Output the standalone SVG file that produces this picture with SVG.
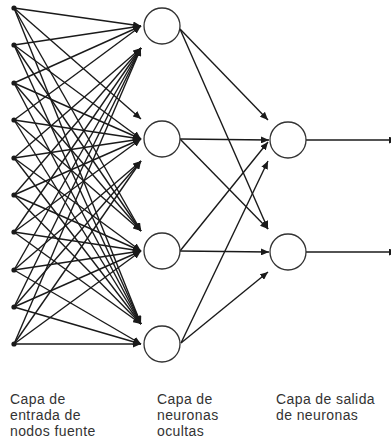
<svg xmlns="http://www.w3.org/2000/svg" width="391" height="446" viewBox="0 0 391 446">
  <style>
    .edge { stroke: #1a1a1a; stroke-width: 1.4; fill: none; marker-end: url(#tip); }
    .src { fill: #1a1a1a; }
    .neuron { fill: #ffffff; stroke: #333333; stroke-width: 1.3; }
    .label { font-family: "Liberation Sans", Arial, sans-serif; font-size: 14px; letter-spacing: 0.4px; fill: #333333; }
  </style>
  <defs>
    <marker id="tip" markerUnits="userSpaceOnUse" markerWidth="9" markerHeight="7" refX="8" refY="3.5" orient="auto">
      <path d="M0,0 L8,3.5 L0,7 z" fill="#1a1a1a"/>
    </marker>
  </defs>
  <rect width="391" height="446" fill="#ffffff"/>

  <!-- connections: source nodes to hidden neurons, hidden to output, output lines -->
  <g id="connectors">
    <!-- to hidden 1 -->
    <line class="edge" x1="14" y1="8" x2="141" y2="26"/>
    <line class="edge" x1="14" y1="45" x2="141" y2="26"/>
    <line class="edge" x1="14" y1="83" x2="141" y2="26"/>
    <line class="edge" x1="14" y1="120" x2="141" y2="26"/>
    <line class="edge" x1="14" y1="158" x2="141" y2="48"/>
    <line class="edge" x1="14" y1="195" x2="141" y2="48"/>
    <line class="edge" x1="14" y1="232" x2="141" y2="48"/>
    <line class="edge" x1="14" y1="270" x2="141" y2="48"/>
    <line class="edge" x1="14" y1="307" x2="141" y2="48"/>
    <line class="edge" x1="14" y1="344" x2="141" y2="48"/>
    <!-- to hidden 2 -->
    <line class="edge" x1="14" y1="8" x2="141" y2="119"/>
    <line class="edge" x1="14" y1="45" x2="141" y2="139"/>
    <line class="edge" x1="14" y1="83" x2="141" y2="139"/>
    <line class="edge" x1="14" y1="120" x2="141" y2="139"/>
    <line class="edge" x1="14" y1="158" x2="141" y2="139"/>
    <line class="edge" x1="14" y1="195" x2="141" y2="139"/>
    <line class="edge" x1="14" y1="232" x2="141" y2="139"/>
    <line class="edge" x1="14" y1="270" x2="141" y2="161"/>
    <line class="edge" x1="14" y1="307" x2="141" y2="161"/>
    <line class="edge" x1="14" y1="344" x2="141" y2="161"/>
    <!-- to hidden 3 -->
    <line class="edge" x1="14" y1="8" x2="141" y2="231"/>
    <line class="edge" x1="14" y1="45" x2="141" y2="231"/>
    <line class="edge" x1="14" y1="83" x2="141" y2="231"/>
    <line class="edge" x1="14" y1="120" x2="141" y2="231"/>
    <line class="edge" x1="14" y1="158" x2="141" y2="251"/>
    <line class="edge" x1="14" y1="195" x2="141" y2="251"/>
    <line class="edge" x1="14" y1="232" x2="141" y2="251"/>
    <line class="edge" x1="14" y1="270" x2="141" y2="251"/>
    <line class="edge" x1="14" y1="307" x2="141" y2="251"/>
    <line class="edge" x1="14" y1="344" x2="141" y2="251"/>
    <!-- to hidden 4 -->
    <line class="edge" x1="14" y1="8" x2="141" y2="324"/>
    <line class="edge" x1="14" y1="45" x2="141" y2="324"/>
    <line class="edge" x1="14" y1="83" x2="141" y2="324"/>
    <line class="edge" x1="14" y1="120" x2="141" y2="324"/>
    <line class="edge" x1="14" y1="158" x2="141" y2="324"/>
    <line class="edge" x1="14" y1="195" x2="141" y2="324"/>
    <line class="edge" x1="14" y1="232" x2="141" y2="324"/>
    <line class="edge" x1="14" y1="270" x2="141" y2="344"/>
    <line class="edge" x1="14" y1="307" x2="141" y2="344"/>
    <line class="edge" x1="14" y1="344" x2="141" y2="344"/>
    <!-- hidden to output -->
    <line class="edge" x1="180" y1="29" x2="268" y2="120"/>
    <line class="edge" x1="180" y1="29" x2="268" y2="229"/>
    <line class="edge" x1="180" y1="139" x2="269" y2="140"/>
    <line class="edge" x1="180" y1="139" x2="268" y2="229"/>
    <line class="edge" x1="180" y1="251" x2="268" y2="142"/>
    <line class="edge" x1="180" y1="251" x2="269" y2="252"/>
    <line class="edge" x1="181" y1="343" x2="268" y2="161"/>
    <line class="edge" x1="181" y1="343" x2="268" y2="272"/>
    <!-- output signals -->
    <line class="edge" x1="306" y1="140" x2="397" y2="140"/>
    <line class="edge" x1="306" y1="252" x2="397" y2="252"/>
  </g>

  <!-- source nodes -->
  <g id="in1"><circle class="src" cx="14" cy="8" r="2.6"/></g>
  <g id="in2"><circle class="src" cx="14" cy="45" r="2.6"/></g>
  <g id="in3"><circle class="src" cx="14" cy="83" r="2.6"/></g>
  <g id="in4"><circle class="src" cx="14" cy="120" r="2.6"/></g>
  <g id="in5"><circle class="src" cx="14" cy="158" r="2.6"/></g>
  <g id="in6"><circle class="src" cx="14" cy="195" r="2.6"/></g>
  <g id="in7"><circle class="src" cx="14" cy="232" r="2.6"/></g>
  <g id="in8"><circle class="src" cx="14" cy="270" r="2.6"/></g>
  <g id="in9"><circle class="src" cx="14" cy="307" r="2.6"/></g>
  <g id="in10"><circle class="src" cx="14" cy="344" r="2.6"/></g>

  <!-- hidden neurons -->
  <g id="hidden1"><circle class="neuron" cx="162" cy="26" r="18"/></g>
  <g id="hidden2"><circle class="neuron" cx="162" cy="139" r="18"/></g>
  <g id="hidden3"><circle class="neuron" cx="162" cy="251" r="18"/></g>
  <g id="hidden4"><circle class="neuron" cx="162" cy="344" r="18"/></g>

  <!-- output neurons -->
  <g id="output1"><circle class="neuron" cx="288" cy="140" r="18"/></g>
  <g id="output2"><circle class="neuron" cx="288" cy="252" r="18"/></g>

  <!-- layer captions -->
  <g id="caption-input">
    <text class="label" x="10" y="404">Capa de</text>
    <text class="label" x="10" y="420">entrada de</text>
    <text class="label" x="10" y="436">nodos fuente</text>
  </g>
  <g id="caption-hidden">
    <text class="label" x="157" y="404">Capa de</text>
    <text class="label" x="157" y="420">neuronas</text>
    <text class="label" x="157" y="436">ocultas</text>
  </g>
  <g id="caption-output">
    <text class="label" x="276" y="404">Capa de salida</text>
    <text class="label" x="276" y="420">de neuronas</text>
  </g>
</svg>
